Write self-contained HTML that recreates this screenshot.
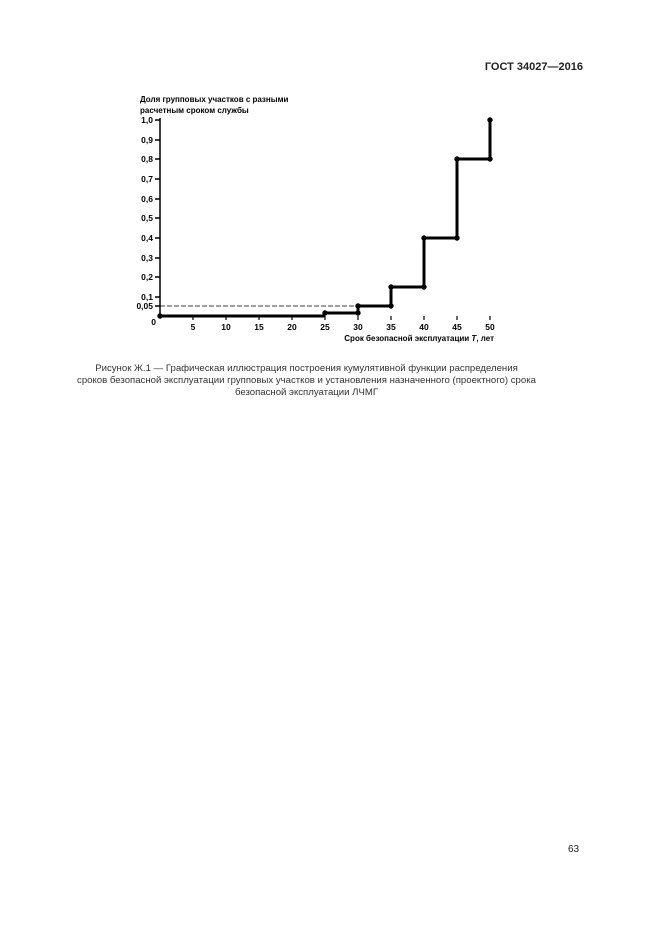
<!DOCTYPE html>
<html><head><meta charset="utf-8"><style>
body{margin:0;background:#fff;}
.p{position:relative;width:661px;height:935px;background:#fff;font-family:"Liberation Sans",sans-serif;color:#222;}
.hd{position:absolute;right:78px;top:61px;font-weight:bold;font-size:11px;}
.cap{position:absolute;left:-24px;width:661px;top:363px;text-align:center;font-size:9.6px;line-height:12px;color:#333;}
.pg{position:absolute;left:568px;top:844px;font-size:10px;}
svg{position:absolute;left:0;top:0;}
</style></head><body><div class="p">
<div class="hd">ГОСТ 34027—2016</div>
<svg width="661" height="935" font-family="Liberation Sans, sans-serif" font-weight="bold" font-size="8.5">
<text x="140" y="102" font-size="8">Доля групповых участков с разными</text>
<text x="140" y="113" font-size="8">расчетным сроком службы</text>
<g stroke="#000" stroke-width="1.5" fill="none">
<line x1="160" y1="118" x2="160" y2="317"/>
<line x1="155" y1="120" x2="160" y2="120"/><line x1="155" y1="140" x2="160" y2="140"/>
<line x1="155" y1="159" x2="160" y2="159"/><line x1="155" y1="179" x2="160" y2="179"/>
<line x1="155" y1="199" x2="160" y2="199"/><line x1="155" y1="218" x2="160" y2="218"/>
<line x1="155" y1="238" x2="160" y2="238"/><line x1="155" y1="258" x2="160" y2="258"/>
<line x1="155" y1="277" x2="160" y2="277"/><line x1="155" y1="297" x2="160" y2="297"/>
<line x1="155" y1="306" x2="160" y2="306"/>
</g>
<g stroke="#000" stroke-width="1.2">
<line x1="193" y1="316" x2="193" y2="320"/><line x1="226" y1="316" x2="226" y2="320"/>
<line x1="259" y1="316" x2="259" y2="320"/><line x1="292" y1="316" x2="292" y2="320"/>
<line x1="325" y1="316" x2="325" y2="320"/><line x1="358" y1="316" x2="358" y2="320"/>
<line x1="391" y1="316" x2="391" y2="320"/><line x1="424" y1="316" x2="424" y2="320"/>
<line x1="457" y1="316" x2="457" y2="320"/><line x1="490" y1="316" x2="490" y2="320"/>
</g>
<line x1="160" y1="306" x2="358" y2="306" stroke="#000" stroke-width="0.7" stroke-dasharray="5,2"/>
<g text-anchor="end">
<text x="153" y="123">1,0</text><text x="153" y="143">0,9</text><text x="153" y="162">0,8</text>
<text x="153" y="182">0,7</text><text x="153" y="202">0,6</text><text x="153" y="221">0,5</text>
<text x="153" y="241">0,4</text><text x="153" y="261">0,3</text><text x="153" y="280">0,2</text>
<text x="153" y="300">0,1</text><text x="153" y="309">0,05</text><text x="156" y="325">0</text>
</g>
<g text-anchor="middle">
<text x="193" y="330">5</text><text x="226" y="330">10</text><text x="259" y="330">15</text>
<text x="292" y="330">20</text><text x="325" y="330">25</text><text x="358" y="330">30</text>
<text x="391" y="330">35</text><text x="424" y="330">40</text><text x="457" y="330">45</text>
<text x="490" y="330">50</text>
</g>
<text x="494" y="341" text-anchor="end" font-size="8">Срок безопасной эксплуатации <tspan font-style="italic">T</tspan>, лет</text>
<g stroke="#000" stroke-width="3" fill="none">
<line x1="160" y1="316" x2="325" y2="316"/>
<polyline points="325,313 358,313 358,306 391,306 391,287 424,287 424,238 457,238 457,159 490,159 490,120"/>
</g>
<g fill="#000">
<circle cx="160" cy="316" r="2.7"/><circle cx="325" cy="313" r="2.7"/><circle cx="358" cy="313" r="2.7"/>
<circle cx="358" cy="306" r="2.7"/><circle cx="391" cy="306" r="2.7"/><circle cx="391" cy="287" r="2.7"/>
<circle cx="424" cy="287" r="2.7"/><circle cx="424" cy="238" r="2.7"/><circle cx="457" cy="238" r="2.7"/>
<circle cx="457" cy="159" r="2.7"/><circle cx="490" cy="159" r="2.7"/><circle cx="490" cy="120" r="2.7"/>
</g>
</svg>
<div class="cap">Рисунок Ж.1 — Графическая иллюстрация построения кумулятивной функции распределения<br>сроков безопасной эксплуатации групповых участков и установления назначенного (проектного) срока<br>безопасной эксплуатации ЛЧМГ</div>
<div class="pg">63</div>
</div></body></html>
